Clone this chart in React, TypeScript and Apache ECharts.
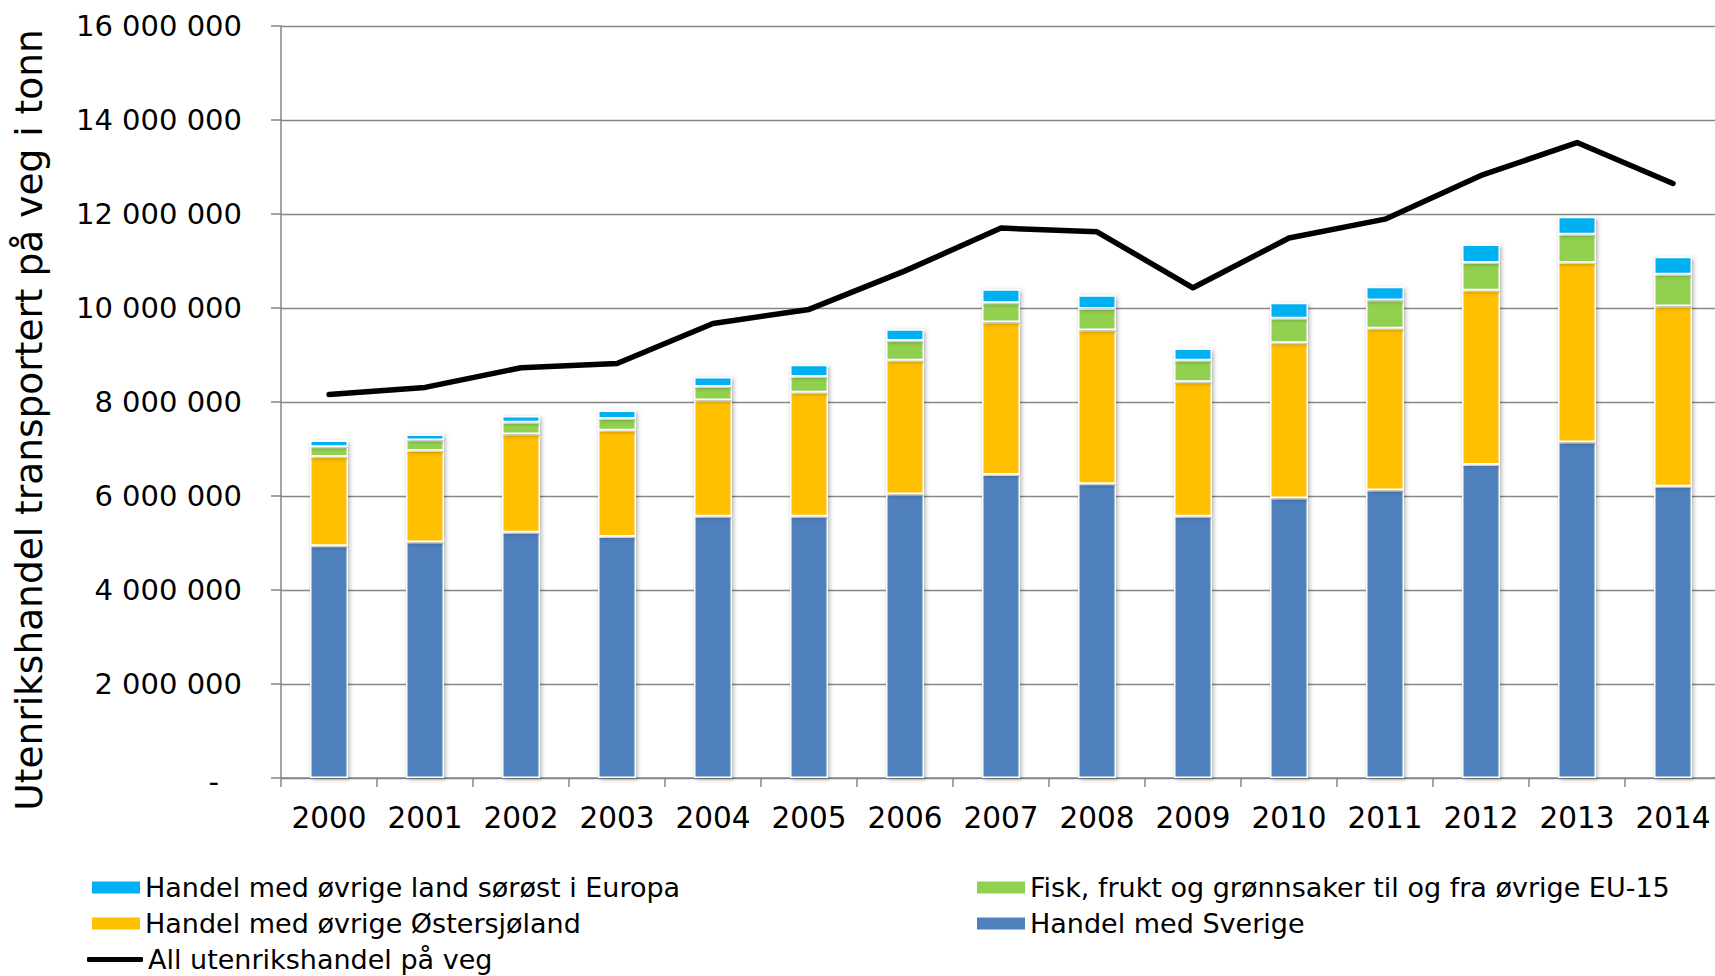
import React, { useEffect, useRef } from "react";
import * as echarts from "echarts";

const years = ["2000", "2001", "2002", "2003", "2004", "2005", "2006", "2007", "2008", "2009", "2010", "2011", "2012", "2013", "2014"];

const sverige = [4940000, 5020000, 5230000, 5140000, 5570000, 5570000, 6040000, 6460000, 6260000, 5570000, 5960000, 6130000, 6670000, 7150000, 6210000];
const ostersjo = [1900000, 1950000, 2090000, 2260000, 2470000, 2640000, 2850000, 3240000, 3270000, 2860000, 3300000, 3440000, 3710000, 3820000, 3830000];
const fisk = [210000, 220000, 250000, 250000, 290000, 330000, 420000, 410000, 460000, 460000, 520000, 600000, 590000, 600000, 680000];
const sorost = [130000, 120000, 130000, 170000, 200000, 250000, 240000, 290000, 280000, 250000, 330000, 280000, 380000, 370000, 370000];
const allHandel = [8160000, 8310000, 8730000, 8820000, 9670000, 9970000, 10790000, 11700000, 11620000, 10430000, 11490000, 11890000, 12820000, 13520000, 12650000];

const yTicks = { min: 0, max: 16000000, interval: 2000000 };

const names = {
  sorost: "Handel med øvrige land sørøst i Europa",
  fisk: "Fisk, frukt og grønnsaker til og fra øvrige EU-15",
  ostersjo: "Handel med øvrige Østersjøland",
  sverige: "Handel med Sverige",
  all: "All utenrikshandel på veg",
};

const yTitle = "Utenrikshandel transportert på veg i tonn";

const FONT = "DejaVu Sans";
const GRAY = "#868686";

function fmt(v: number): string {
  if (v === 0) return "{d|-}";
  return String(v).replace(/\B(?=(\d{3})+(?!\d))/g, " ");
}

export default function App() {
  const ref = useRef<HTMLDivElement>(null);

  useEffect(() => {
    if (!ref.current) return;
    const chart = echarts.init(ref.current, null, { renderer: "svg" });

    const barStyle = (color: string) => ({
      color,
      borderColor: "#ffffff",
      borderWidth: 1.5,
      shadowBlur: 4,
      shadowOffsetX: 1.5,
      shadowOffsetY: 1.5,
      shadowColor: "rgba(0,0,0,0.3)",
    });

    const legendText = { fontSize: 27, color: "#000", fontFamily: FONT };
    const mkLegend = (name: string, left: number, top: number, icon: string, w = 48, h = 12) => ({
      show: true,
      left,
      top,
      padding: 0,
      itemWidth: w,
      itemHeight: h,
      selectedMode: false,
      icon,
      data: [{ name, icon }],
      textStyle: legendText,
      itemStyle: { borderWidth: 0, shadowBlur: 0, shadowOffsetX: 0, shadowOffsetY: 0 },
    });

    const barSeries = (name: string, data: number[], color: string) => ({
      name,
      type: "bar",
      stack: "total",
      data,
      barWidth: 38,
      itemStyle: barStyle(color),
      emphasis: { disabled: true },
    });

    chart.setOption({
      animation: false,
      textStyle: { fontFamily: FONT },
      grid: { left: 281, right: -6, top: 26, bottom: 198, outerBoundsMode: "none", containLabel: false },
      legend: [
        mkLegend(names.sorost, 92, 874, "rect"),
        mkLegend(names.fisk, 977, 874, "rect"),
        mkLegend(names.ostersjo, 92, 910, "rect"),
        mkLegend(names.sverige, 977, 910, "rect"),
        mkLegend(names.all, 87, 946, "roundRect", 56, 5),
      ],
      xAxis: {
        type: "category",
        data: years,
        boundaryGap: true,
        axisLine: { show: true, lineStyle: { color: GRAY, width: 1.5 } },
        axisTick: { show: true, length: 9, interval: 0, lineStyle: { color: GRAY, width: 1.5 } },
        axisLabel: { color: "#000", fontSize: 29.5, fontFamily: FONT, margin: 25, interval: 0 },
        splitLine: { show: false },
      },
      yAxis: {
        type: "value",
        min: yTicks.min,
        max: yTicks.max,
        interval: yTicks.interval,
        axisLine: { show: true, lineStyle: { color: GRAY, width: 1.5 } },
        axisTick: { show: true, length: 10, lineStyle: { color: GRAY, width: 1.5 } },
        axisLabel: {
          color: "#000",
          fontSize: 29,
          fontFamily: FONT,
          margin: 39,
          formatter: fmt,
          rich: { d: { fontSize: 29, fontFamily: FONT, color: "#000", padding: [8, 23, 0, 0] } },
        },
        splitLine: { show: true, lineStyle: { color: GRAY, width: 1.3 } },
      },
      graphic: [
        {
          type: "text",
          x: 29,
          y: 420,
          rotation: Math.PI / 2,
          style: {
            text: yTitle,
            font: `37.5px '${FONT}'`,
            fill: "#000",
            textAlign: "center",
            textVerticalAlign: "middle",
          },
        },
      ],
      series: [
        barSeries(names.sverige, sverige, "#4F81BD"),
        barSeries(names.ostersjo, ostersjo, "#FFC000"),
        barSeries(names.fisk, fisk, "#92D050"),
        barSeries(names.sorost, sorost, "#00B0F0"),
        {
          name: names.all,
          type: "line",
          data: allHandel,
          symbol: "none",
          z: 5,
          lineStyle: { color: "#000", width: 5.5, cap: "round", join: "round" },
          itemStyle: { color: "#000" },
          emphasis: { disabled: true },
        },
      ],
    });

    return () => chart.dispose();
  }, []);

  return (
    <div
      ref={ref}
      style={{ position: "fixed", left: 0, top: 0, width: 1715, height: 976, background: "#fff" }}
    />
  );
}
